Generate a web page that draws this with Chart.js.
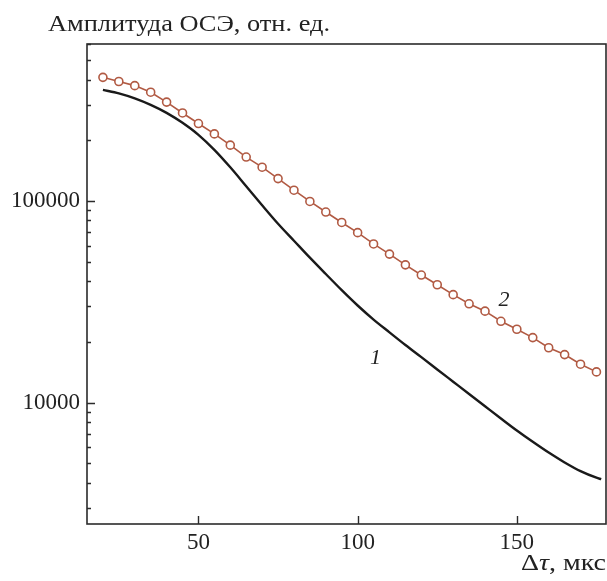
<!DOCTYPE html>
<html>
<head>
<meta charset="utf-8">
<script src="https://cdn.jsdelivr.net/npm/chart.js@4/dist/chart.umd.min.js"></script>
<style>
  html, body { margin: 0; padding: 0; background: #ffffff; }
  canvas { display: block; }
</style>
</head>
<body>
<canvas id="echo" width="607" height="581"></canvas>
<script>
// Delay between pulses, μs (curve 2 markers)
const delayUs = [20, 25, 30, 35, 40, 45, 50, 55, 60, 65, 70, 75, 80, 85, 90, 95,
                 100, 105, 110, 115, 120, 125, 130, 135, 140, 145, 150, 155, 160, 165, 170, 175];
// Curve 2: echo amplitude, arb. units
const amp2 = [410000, 391000, 373000, 346000, 309000, 273000, 242000, 215000, 189000, 165000,
              147000, 129000, 113000, 99400, 88100, 78200, 69600, 61200, 54500, 48200,
              42900, 38400, 34300, 30900, 28400, 25300, 23100, 21000, 18700, 17300, 15500, 14200];
// Curve 1: sampled delays, μs
const delay1 = [20, 25, 30, 35, 40, 45, 50, 55, 60, 65, 70, 75, 80, 85, 90, 95,
                100, 105, 110, 115, 120, 125, 130, 135, 140, 145, 150, 155, 160, 165, 170, 175, 176.5];
// Curve 1: echo amplitude, arb. units
const amp1 = [355200, 341300, 322400, 299300, 273300, 243900, 212700, 179200, 146800, 118300,
              95200, 77100, 63500, 52300, 43400, 36100, 30300, 25800, 22300, 19300,
              16800, 14600, 12690, 11030, 9590, 8340, 7270, 6390, 5650, 5050, 4570, 4240, 4170];
// Axis ranges and labelled ticks
const xRange = [15, 178];
const yRange = [2500, 600000];
const xTickValues = [50, 100, 150];
const yTickValues = [10000, 100000];
// Curve labels: [text, delay, amplitude]
const curveLabels = [['1', 105.6, 16650], ['2', 146, 32200]];

const yAxisTitle = 'Амплитуда ОСЭ, отн. ед.';
const xAxisTitle = ['Δ', 'τ', ', мкс'];

const INK = '#222222';
const RUST = '#b15a43';
const SERIF = '"Liberation Serif", "DejaVu Serif", serif';

// Draws a run of [text, font] pieces, stretched horizontally to a given width
function drawStretched(ctx, pieces, x, y, width) {
  let natural = 0;
  pieces.forEach(([t, f]) => { ctx.font = f; natural += ctx.measureText(t).width; });
  ctx.save();
  ctx.translate(x, y);
  ctx.scale(width / natural, 1);
  let cx = 0;
  pieces.forEach(([t, f]) => { ctx.font = f; ctx.fillText(t, cx, 0); cx += ctx.measureText(t).width; });
  ctx.restore();
}

// Frame, inward ticks, minor log ticks, titles and curve labels
const decorations = {
  id: 'decorations',
  afterDatasetsDraw(chart) {
    const { ctx, chartArea: a, scales } = chart;
    const x = scales.x, y = scales.y;
    ctx.save();
    ctx.strokeStyle = '#2b2b2b';
    ctx.lineWidth = 1.6;
    ctx.strokeRect(a.left, a.top, a.right - a.left, a.bottom - a.top);

    ctx.lineWidth = 1.4;
    ctx.beginPath();
    xTickValues.forEach(v => {
      const px = Math.round(x.getPixelForValue(v)) + 0.5;
      ctx.moveTo(px, a.bottom); ctx.lineTo(px, a.bottom - 8);
    });
    for (let dec = 1000; dec <= 1000000; dec *= 10) {
      for (let m = 1; m <= 9; m++) {
        const v = dec * m;
        if (v < yRange[0] || v > yRange[1]) continue;
        const py = Math.round(y.getPixelForValue(v)) + 0.5;
        const len = m === 1 ? 8 : 4;
        ctx.moveTo(a.left, py); ctx.lineTo(a.left + len, py);
      }
    }
    ctx.stroke();

    ctx.fillStyle = INK;
    ctx.textBaseline = 'alphabetic';
    ctx.textAlign = 'left';
    drawStretched(ctx, [[yAxisTitle, '24px ' + SERIF]], 48, 31, 282);
    drawStretched(ctx, [
      [xAxisTitle[0], '24px ' + SERIF],
      [xAxisTitle[1], 'italic 24px ' + SERIF],
      [xAxisTitle[2], '24px ' + SERIF]
    ], 521, 570, 85);

    ctx.font = 'italic 22px ' + SERIF;
    ctx.textAlign = 'center';
    ctx.textBaseline = 'middle';
    curveLabels.forEach(([t, vx, vy]) => {
      ctx.fillText(t, x.getPixelForValue(vx), y.getPixelForValue(vy));
    });
    ctx.restore();
  }
};

new Chart(document.getElementById('echo'), {
  type: 'line',
  data: {
    datasets: [
      {
        label: '1',
        data: delay1.map((d, i) => ({ x: d, y: amp1[i] })),
        borderColor: '#1a1a1a',
        borderWidth: 2.4,
        pointRadius: 0,
        cubicInterpolationMode: 'monotone',
        fill: false
      },
      {
        label: '2',
        data: delayUs.map((d, i) => ({ x: d, y: amp2[i] })),
        borderColor: RUST,
        borderWidth: 1.6,
        tension: 0,
        pointRadius: 4,
        pointBorderWidth: 1.6,
        pointBackgroundColor: '#ffffff',
        pointBorderColor: RUST,
        fill: false
      }
    ]
  },
  options: {
    responsive: false,
    devicePixelRatio: 1,
    animation: false,
    layout: { autoPadding: false, padding: { left: 0, top: 44, right: 1, bottom: 0 } },
    plugins: { legend: { display: false }, tooltip: { enabled: false } },
    scales: {
      x: {
        type: 'linear',
        min: xRange[0], max: xRange[1],
        grid: { display: false, drawTicks: false },
        border: { display: false },
        afterBuildTicks: s => { s.ticks = xTickValues.map(v => ({ value: v })); },
        afterFit: s => { s.height = 57; s.paddingLeft = 0; s.paddingRight = 0; },
        ticks: {
          color: INK, padding: 5,
          font: { family: SERIF, size: 23 },
          maxRotation: 0,
          callback: v => String(v)
        }
      },
      y: {
        type: 'logarithmic',
        min: yRange[0], max: yRange[1],
        grid: { display: false, drawTicks: false },
        border: { display: false },
        afterBuildTicks: s => { s.ticks = yTickValues.map(v => ({ value: v })); },
        afterFit: s => { s.width = 87; s.paddingTop = 0; s.paddingBottom = 0; },
        ticks: {
          color: INK, padding: 7,
          font: { family: SERIF, size: 23 },
          callback: v => String(v)
        }
      }
    }
  },
  plugins: [decorations]
});
</script>
</body>
</html>
